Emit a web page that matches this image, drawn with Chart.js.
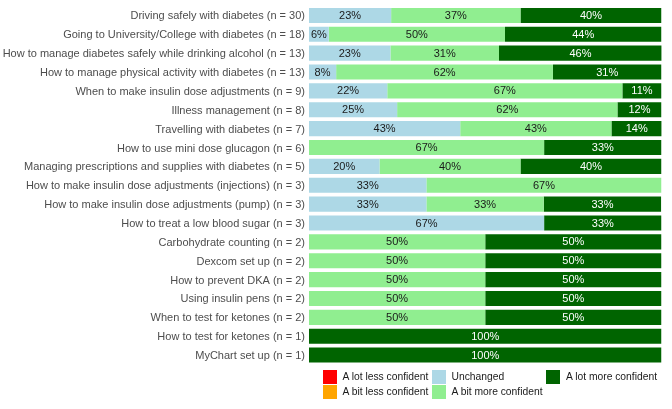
<!DOCTYPE html>
<html>
<head>
<meta charset="utf-8">
<script src="https://cdn.jsdelivr.net/npm/chart.js@4/dist/chart.umd.min.js"></script>
<style>
  html, body { margin: 0; padding: 0; background: #fff; }
  #wrap { position: relative; width: 672px; height: 409px; }
  canvas { position: absolute; left: 0; top: 0; }
  .leg { position: absolute; font-family: "Liberation Sans", Arial, sans-serif; font-size: 10.3px; color: #1a1a1a; white-space: nowrap; }
  .box { position: absolute; width: 14px; height: 14px; }
</style>
</head>
<body>
<div id="wrap">
  <canvas id="c" width="672" height="409"></canvas>
</div>
<script>
const categories = [
  "Driving safely with diabetes (n = 30)",
  "Going to University/College with diabetes (n = 18)",
  "How to manage diabetes safely while drinking alcohol (n = 13)",
  "How to manage physical activity with diabetes (n = 13)",
  "When to make insulin dose adjustments (n = 9)",
  "Illness management (n = 8)",
  "Travelling with diabetes (n = 7)",
  "How to use mini dose glucagon (n = 6)",
  "Managing prescriptions and supplies with diabetes (n = 5)",
  "How to make insulin dose adjustments (injections) (n = 3)",
  "How to make insulin dose adjustments (pump) (n = 3)",
  "How to treat a low blood sugar (n = 3)",
  "Carbohydrate counting (n = 2)",
  "Dexcom set up (n = 2)",
  "How to prevent DKA (n = 2)",
  "Using insulin pens (n = 2)",
  "When to test for ketones (n = 2)",
  "How to test for ketones (n = 1)",
  "MyChart set up (n = 1)"
];
const seriesNames = ["A lot less confident", "A bit less confident", "Unchanged", "A bit more confident", "A lot more confident"];
const lotLess   = [0,0,0,0,0,0,0,0,0,0,0,0,0,0,0,0,0,0,0];
const bitLess   = [0,0,0,0,0,0,0,0,0,0,0,0,0,0,0,0,0,0,0];
const unchanged = [23.3, 5.6, 23.1, 7.7, 22.2, 25, 42.9, 0, 20, 33.3, 33.3, 66.7, 0, 0, 0, 0, 0, 0, 0];
const bitMore   = [36.7, 50, 30.8, 61.5, 66.7, 62.5, 42.9, 66.7, 40, 66.7, 33.3, 0, 50, 50, 50, 50, 50, 0, 0];
const lotMore   = [40, 44.4, 46.2, 30.8, 11.1, 12.5, 14.3, 33.3, 40, 0, 33.3, 33.3, 50, 50, 50, 50, 50, 100, 100];

const colors = ["#FF0000", "#FFA500", "#ADD8E6", "#90EE90", "#006400"];
const textColors = ["#1a1a1a", "#1a1a1a", "#1a1a1a", "#1a1a1a", "#ffffff"];
const seriesData = [lotLess, bitLess, unchanged, bitMore, lotMore];

function roundHalfEven(v) {
  const f = Math.floor(v);
  const d = v - f;
  if (Math.abs(d - 0.5) < 1e-9) return (f % 2 === 0) ? f : f + 1;
  return Math.round(v);
}

const labelPlugin = {
  id: 'segLabels',
  afterDatasetsDraw(chart) {
    const ctx = chart.ctx;
    ctx.save();
    ctx.font = '11px "Liberation Sans", Arial, sans-serif';
    ctx.textAlign = 'center';
    ctx.textBaseline = 'middle';
    chart.data.datasets.forEach((ds, di) => {
      const meta = chart.getDatasetMeta(di);
      meta.data.forEach((el, i) => {
        const v = ds.data[i];
        if (!v) return;
        const cx = (el.x + el.base) / 2;
        ctx.fillStyle = textColors[di];
        ctx.fillText(roundHalfEven(v) + '%', cx, el.y + 0.5);
      });
    });
    ctx.restore();
  }
};

new Chart(document.getElementById('c'), {
  type: 'bar',
  data: {
    labels: categories,
    datasets: seriesData.map((d, i) => ({
      label: seriesNames[i],
      data: d,
      backgroundColor: colors[i],
      borderWidth: 0,
      categoryPercentage: 1,
      barPercentage: 0.8
    }))
  },
  options: {
    indexAxis: 'y',
    responsive: false,
    animation: false,
    devicePixelRatio: 1,
    layout: { padding: { top: 6, bottom: 44.5, right: 10.5, left: 0 } },
    plugins: { legend: { display: false }, tooltip: { enabled: false } },
    scales: {
      x: { stacked: true, min: 0, max: 100, display: false },
      y: {
        stacked: true,
        grid: { display: false, drawTicks: false },
        border: { display: false },
        ticks: {
          color: '#4d4d4d',
          font: { family: '"Liberation Sans", Arial, sans-serif', size: 11 },
          padding: 4,
          labelOffset: 1,
          autoSkip: false
        },
        afterFit(scale) { scale.width = 309; scale.paddingTop = 0; scale.paddingBottom = 0; }
      }
    }
  },
  plugins: [labelPlugin]
});

// Legend (column-major like the reference)
const wrap = document.getElementById('wrap');
const legPos = [
  [322.5, 369.5, 0], [322.5, 384.5, 1],
  [431.5, 369.5, 2], [431.5, 384.5, 3],
  [546, 369.5, 4]
];
legPos.forEach(([x, y, i]) => {
  const b = document.createElement('div');
  b.className = 'box';
  b.style.left = x + 'px'; b.style.top = y + 'px';
  b.style.background = colors[i];
  wrap.appendChild(b);
  const t = document.createElement('div');
  t.className = 'leg';
  t.style.left = (x + 20) + 'px'; t.style.top = (y + 1) + 'px';
  t.textContent = seriesNames[i];
  wrap.appendChild(t);
});
</script>
</body>
</html>
